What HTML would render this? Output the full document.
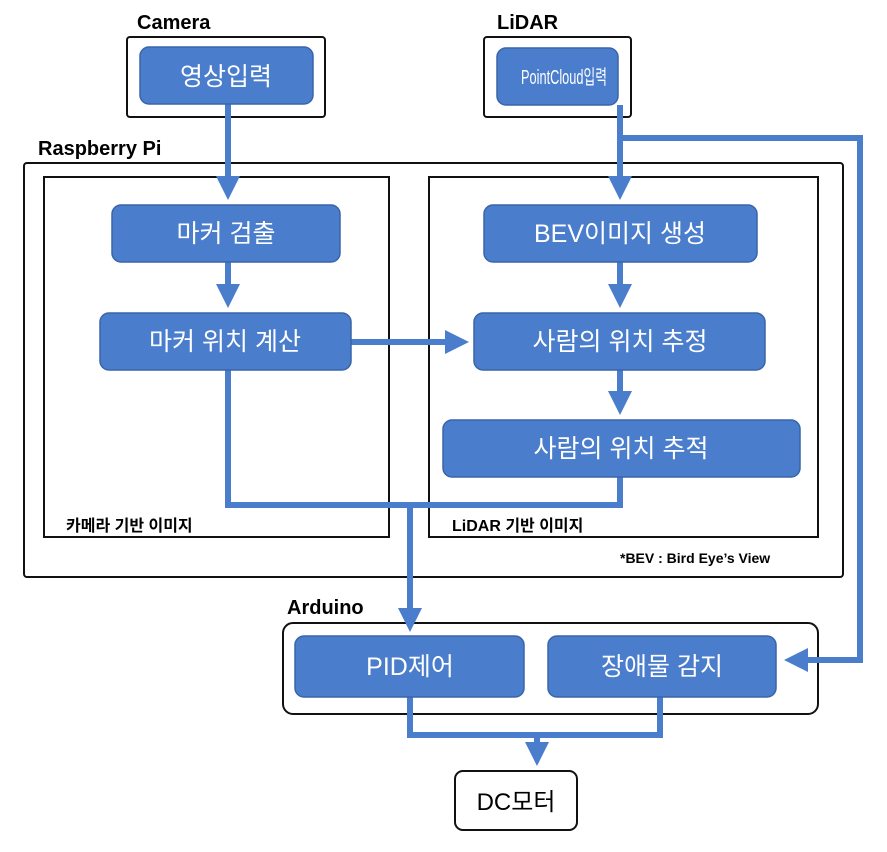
<!DOCTYPE html>
<html><head><meta charset="utf-8"><style>
body{margin:0;background:#fff}
svg{display:block}
text{font-family:"Liberation Sans","Noto Sans CJK KR",sans-serif}
.b{fill:#4a7dcc;stroke:#3a64a8;stroke-width:1.5}
.w{fill:#fff;font-size:25px;text-anchor:middle}
.k{fill:#000;font-weight:bold;font-size:20px}
.l{fill:none;stroke:#4a7dcc;stroke-width:6}
.o{fill:none;stroke:#111;stroke-width:2}
</style></head><body>
<svg width="887" height="852" viewBox="0 0 887 852">
<defs><marker id="a" markerWidth="4" markerHeight="4" refX="3" refY="2" orient="auto" markerUnits="strokeWidth"><path d="M0,0L4,2L0,4Z" fill="#4a7dcc"/></marker></defs>
<text class="k" x="137" y="29">Camera</text>
<text class="k" x="497" y="29">LiDAR</text>
<text class="k" x="38" y="155">Raspberry Pi</text>
<text class="k" x="287" y="614">Arduino</text>
<rect class="o" x="127" y="37" width="198" height="80" rx="3"/>
<rect class="o" x="484" y="37" width="147" height="80" rx="3"/>
<rect class="o" x="24" y="163" width="819" height="414" rx="3"/>
<rect class="o" x="44" y="177" width="345" height="360"/>
<rect class="o" x="429" y="177" width="389" height="360"/>
<rect class="o" x="283" y="623" width="535" height="91" rx="10"/>
<rect class="o" x="455" y="771" width="122" height="59" rx="8"/>
<path class="l" d="M228 104V194" marker-end="url(#a)"/>
<path class="l" d="M620 105V194" marker-end="url(#a)"/>
<path class="l" d="M620 138H860V660H790" marker-end="url(#a)"/>
<path class="l" d="M228 262V302" marker-end="url(#a)"/>
<path class="l" d="M620 262V302" marker-end="url(#a)"/>
<path class="l" d="M620 370V409" marker-end="url(#a)"/>
<path class="l" d="M351 342H463" marker-end="url(#a)"/>
<path class="l" d="M228 370V505H620V477"/>
<path class="l" d="M410 505V626" marker-end="url(#a)"/>
<path class="l" d="M410 697V735H660V697"/>
<path class="l" d="M537 735V760" marker-end="url(#a)"/>
<rect class="b" x="140" y="47" width="173" height="57" rx="9"/>
<text class="w" x="226" y="85">영상입력</text>
<rect class="b" x="497" y="48" width="121" height="57" rx="9"/>
<text class="w" x="521" y="84" style="font-size:20px;text-anchor:start" textLength="86" lengthAdjust="spacingAndGlyphs">PointCloud입력</text>
<rect class="b" x="112" y="205" width="228" height="57" rx="9"/>
<text class="w" x="226" y="242">마커 검출</text>
<rect class="b" x="100" y="313" width="251" height="57" rx="9"/>
<text class="w" x="225" y="350">마커 위치 계산</text>
<rect class="b" x="484" y="205" width="273" height="57" rx="9"/>
<text class="w" x="620" y="242">BEV이미지 생성</text>
<rect class="b" x="474" y="313" width="291" height="57" rx="9"/>
<text class="w" x="620" y="350">사람의 위치 추정</text>
<rect class="b" x="443" y="420" width="357" height="57" rx="9"/>
<text class="w" x="621" y="457">사람의 위치 추적</text>
<rect class="b" x="295" y="636" width="229" height="61" rx="9"/>
<text class="w" x="410" y="675">PID제어</text>
<rect class="b" x="548" y="636" width="228" height="61" rx="9"/>
<text class="w" x="662" y="675">장애물 감지</text>
<text x="516" y="810" style="font-size:24px;text-anchor:middle">DC모터</text>
<text x="66" y="531" style="font-size:16px;font-weight:bold">카메라 기반 이미지</text>
<text x="452" y="531" style="font-size:16px;font-weight:bold">LiDAR 기반 이미지</text>
<text x="620" y="563" style="font-size:14px;font-weight:bold">*BEV : Bird Eye’s View</text>
</svg>
</body></html>
